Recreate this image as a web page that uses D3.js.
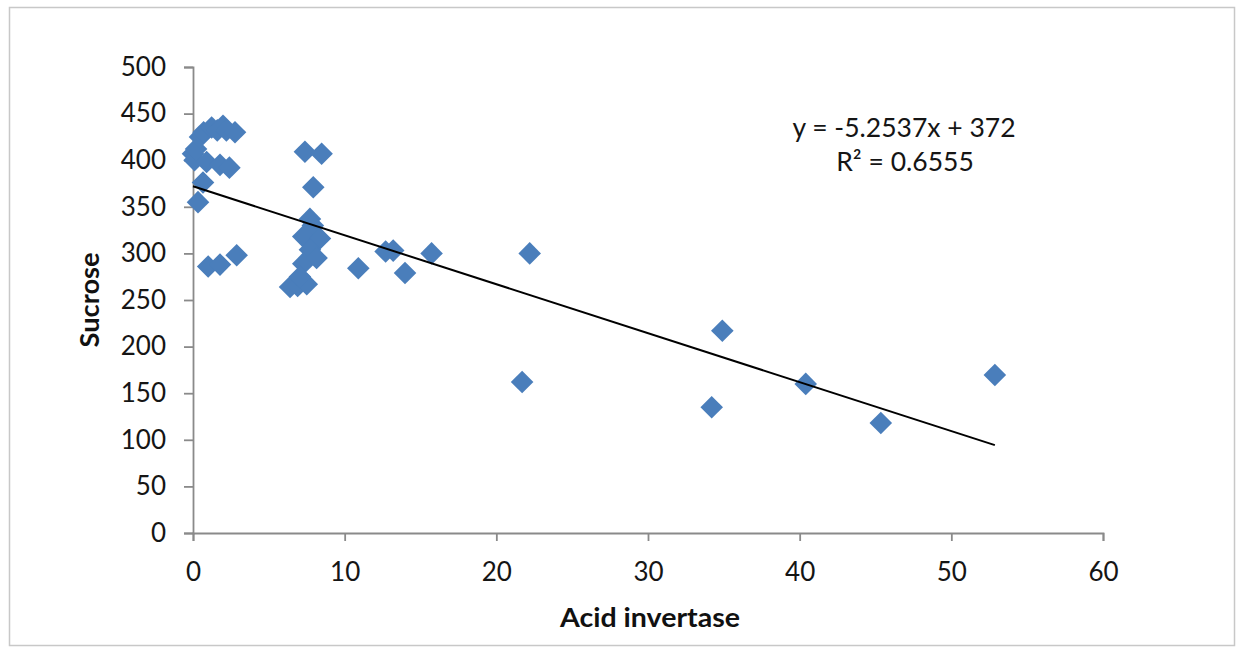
<!DOCTYPE html>
<html>
<head>
<meta charset="utf-8">
<script src="https://cdn.jsdelivr.net/npm/d3@7"></script>
<style>
  html, body { margin: 0; padding: 0; background: #fff; }
  svg { display: block; }
</style>
</head>
<body>
<svg id="chart" width="1239" height="651"></svg>
<script>
// Acid invertase activity (x) vs. sucrose content (y)
const acidInvertase = [
  0.1, 0.0, 0.2, 0.46, 0.7, 1.23, 1.6, 1.98, 2.2, 2.77, 0.9, 1.78, 2.4, 0.66, 0.33, 1.0, 1.78, 2.88,
  7.38, 8.48, 7.93, 7.71, 7.9, 7.27, 8.37, 7.71, 7.27, 8.15, 6.4, 6.9, 7.5, 7.05,
  10.9, 12.7, 13.2, 13.98, 15.73, 21.7, 22.2, 34.2, 34.9, 40.4, 45.35, 52.87
];
const sucrose = [
  400, 407, 412, 425, 430, 435, 432, 437, 432, 430, 398, 395, 392, 376, 355, 286, 288, 298,
  409, 407, 371, 337, 330, 318, 316, 304, 289, 295, 264, 265, 267, 275,
  284, 302, 303, 279, 300, 162, 300, 135, 217, 160, 118, 169.5
];
// Linear fit reported on the chart
const slope = -5.2537;
const intercept = 372;
const rSquared = 0.6555;

const xTicks = [0, 10, 20, 30, 40, 50, 60];
const yTicks = [0, 50, 100, 150, 200, 250, 300, 350, 400, 450, 500];

const svg = d3.select("#chart");
const plot = { left: 193, right: 1103, top: 67, bottom: 533 };
const axisColor = "#8a8a8a";
const markerColor = "#4a7ebb";
const font = "Lato, 'Open Sans', sans-serif";

// chart frame
svg.append("rect")
  .attr("x", 9.5).attr("y", 7.5)
  .attr("width", 1225).attr("height", 638)
  .attr("fill", "#fff")
  .attr("stroke", "#c8c8c8").attr("stroke-width", 1.5);

const x = d3.scaleLinear().domain([0, 60]).range([plot.left, plot.right]);
const y = d3.scaleLinear().domain([0, 500]).range([plot.bottom, plot.top]);

// y axis
const yAxis = svg.append("g")
  .attr("transform", `translate(${plot.left},0)`)
  .call(d3.axisLeft(y).tickValues(yTicks).tickSize(9).tickPadding(18).tickFormat(d3.format("d")));
// x axis
const xAxis = svg.append("g")
  .attr("transform", `translate(0,${plot.bottom})`)
  .call(d3.axisBottom(x).tickValues(xTicks).tickSize(8).tickPadding(22).tickFormat(d3.format("d")));

[yAxis, xAxis].forEach(g => {
  g.select(".domain").attr("stroke", axisColor).attr("stroke-width", 1.8);
  g.selectAll(".tick line").attr("stroke", axisColor).attr("stroke-width", 1.8);
  g.selectAll(".tick text")
    .attr("fill", "#151515")
    .style("font-family", font)
    .style("font-size", "26px");
});

// data points as diamonds
const pts = acidInvertase.map((v, i) => [v, sucrose[i]]);
const diamond = d3.symbol().type(d3.symbolSquare).size(255);
svg.append("g").selectAll("path")
  .data(pts)
  .join("path")
  .attr("d", diamond)
  .attr("transform", d => `translate(${x(d[0])},${y(d[1])}) rotate(45)`)
  .attr("fill", markerColor);

// trend line across the data range
const xMin = d3.min(acidInvertase), xMax = d3.max(acidInvertase);
svg.append("line")
  .attr("x1", x(xMin)).attr("y1", y(slope * xMin + intercept))
  .attr("x2", x(xMax)).attr("y2", y(slope * xMax + intercept))
  .attr("stroke", "#000").attr("stroke-width", 2);

// equation label
const eq = svg.append("g")
  .style("font-family", font).style("font-size", "26.5px")
  .attr("fill", "#151515").attr("text-anchor", "middle");
eq.append("text").attr("x", 904).attr("y", 137)
  .text(`y = ${slope}x + ${intercept}`);
eq.append("text").attr("x", 905).attr("y", 171)
  .text(`R² = ${rSquared}`);

// axis titles
svg.append("text")
  .attr("transform", `translate(99,${(plot.top + plot.bottom) / 2}) rotate(-90)`)
  .attr("text-anchor", "middle")
  .attr("textLength", 95).attr("lengthAdjust", "spacingAndGlyphs")
  .style("font-family", font).style("font-size", "27px").style("font-weight", "bold")
  .attr("fill", "#111")
  .text("Sucrose");
svg.append("text")
  .attr("x", 650).attr("y", 627)
  .attr("text-anchor", "middle")
  .attr("textLength", 180).attr("lengthAdjust", "spacingAndGlyphs")
  .style("font-family", font).style("font-size", "27px").style("font-weight", "bold")
  .attr("fill", "#111")
  .text("Acid invertase");
</script>
</body>
</html>
